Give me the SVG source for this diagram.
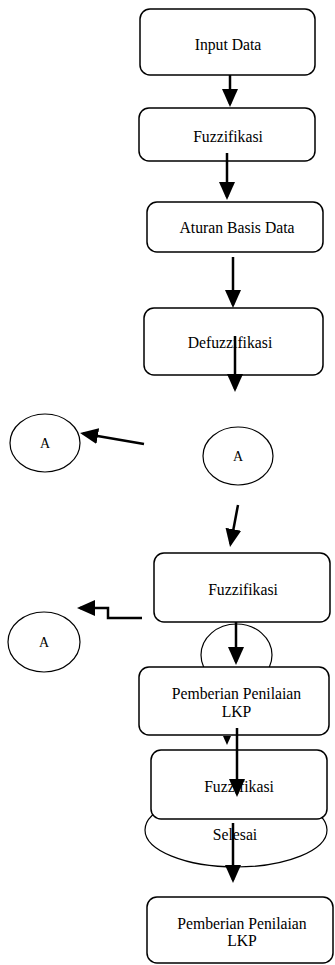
<svg xmlns="http://www.w3.org/2000/svg" width="335" height="965" viewBox="0 0 335 965">
<style>
.box{fill:#fff;stroke:#000;stroke-width:1.5}
.ell{fill:#fff;stroke:#000;stroke-width:1.2}
.t{font-family:"Liberation Serif","Times New Roman",serif;font-size:15.7px;fill:#000;text-anchor:middle}
.ta{font-family:"Liberation Serif","Times New Roman",serif;font-size:14px;fill:#000;text-anchor:middle}
.c{fill:none;stroke:#000;stroke-width:2.5;marker-end:url(#ah)}
</style>
<defs>
<marker id="ah" markerUnits="userSpaceOnUse" markerWidth="18" markerHeight="16" viewBox="0 0 18 16" refX="15" refY="8" orient="auto">
<path d="M0,0 L18,8 L0,16 Z" fill="#000"/>
</marker>
</defs>
<g id="n1"><rect class="box" x="140" y="9" width="175" height="66" rx="10"/><text class="t" x="228" y="50">Input Data</text></g>
<g id="n2"><rect class="box" x="139" y="108" width="176" height="53" rx="10"/><text class="t" x="228" y="142">Fuzzifikasi</text></g>
<g id="n3"><rect class="box" x="147" y="202" width="176" height="50" rx="10"/><text class="t" x="237" y="233">Aturan Basis Data</text></g>
<g id="n4"><rect class="box" x="144" y="308" width="179" height="67" rx="10"/><text class="t" x="230" y="348">Defuzzifikasi</text></g>
<g id="a1"><ellipse class="ell" cx="45" cy="443" rx="35" ry="29"/><text class="ta" x="45" y="448">A</text></g>
<g id="a2"><ellipse class="ell" cx="238" cy="456" rx="35" ry="29"/><text class="ta" x="238" y="461">A</text></g>
<g id="a3"><ellipse class="ell" cx="44" cy="642" rx="36" ry="30"/><text class="ta" x="44" y="647">A</text></g>
<g id="a4"><ellipse class="ell" cx="236.5" cy="655" rx="35.5" ry="31"/></g>
<g id="n5"><rect class="box" x="154" y="553" width="176" height="69" rx="10"/><text class="t" x="243" y="595">Fuzzifikasi</text></g>
<polygon id="hidden-head" points="223,736 231,736 227,745" fill="#000"/>
<g id="n6"><rect class="box" x="139" y="667" width="190" height="68" rx="10"/><text class="t" x="236.5" y="699">Pemberian Penilaian</text><text class="t" x="236.5" y="717">LKP</text></g>
<g id="n8"><ellipse class="ell" cx="236" cy="830" rx="91" ry="37"/><text class="t" x="235" y="840">Selesai</text></g>
<g id="n7"><rect class="box" x="151" y="750" width="176" height="69" rx="10"/><text class="t" x="239" y="792">Fuzzifikasi</text></g>
<g id="n9"><rect class="box" x="147" y="897" width="186" height="66" rx="10"/><text class="t" x="242" y="929">Pemberian Penilaian</text><text class="t" x="242" y="946">LKP</text></g>
<g id="connectors">
<path class="c" d="M230,75 L230,104"/>
<path class="c" d="M227,153 L227,197"/>
<path class="c" d="M233,257 L233,305"/>
<path class="c" d="M235,336 L235,389"/>
<path class="c" d="M144,444 L83,433.5"/>
<path class="c" d="M238,505 L230.6,544"/>
<path class="c" d="M142,618 L108,618 L108,608 L80,608"/>
<path class="c" d="M236,622 L236,662"/>
<path class="c" d="M237,728 L237,794"/>
<path class="c" d="M233,823 L233,880"/>
</g>
</svg>
